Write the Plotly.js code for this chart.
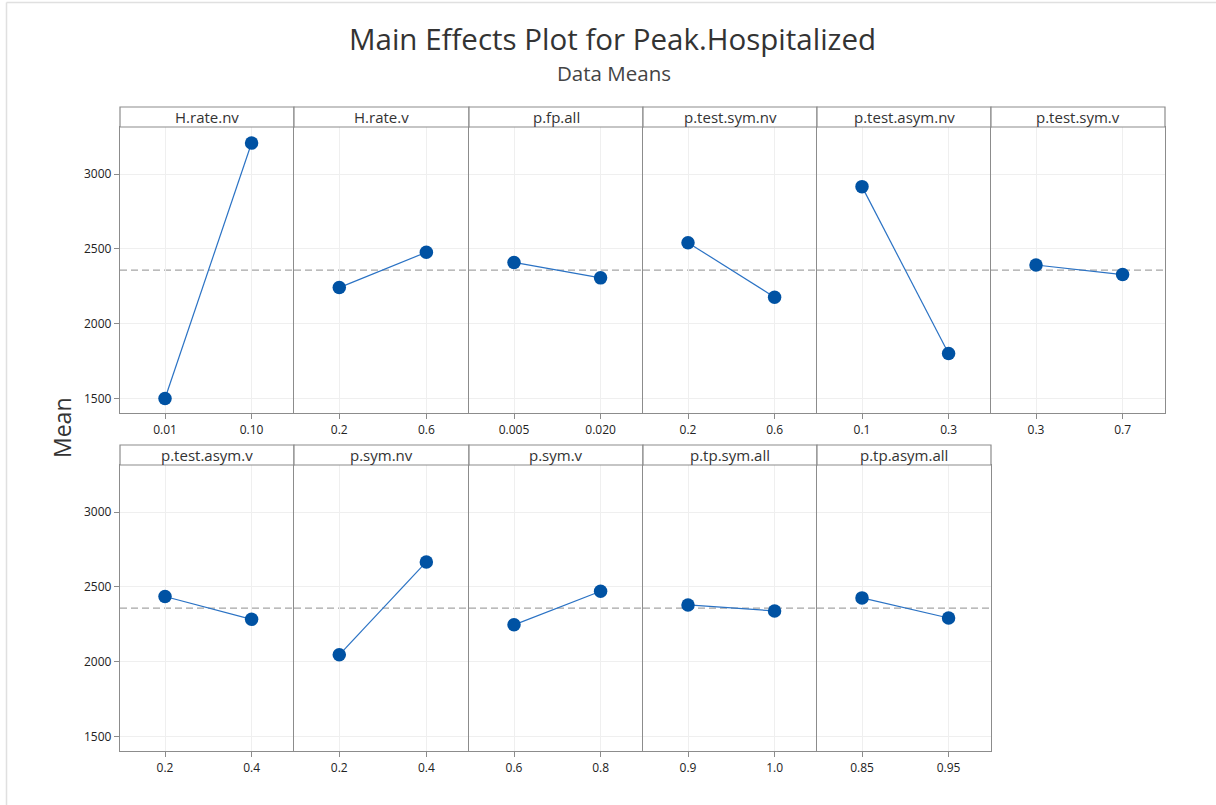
<!DOCTYPE html>
<html>
<head>
<meta charset="utf-8">
<script src="https://cdn.plot.ly/plotly-3.0.1.min.js"></script>
<style>html,body{margin:0;padding:0;background:#fff;}</style>
</head>
<body>
<div id="chart" style="width:1216px;height:805px;"></div>
<script>
// ---- data ----
const factors = ["H.rate.nv","H.rate.v","p.fp.all","p.test.sym.nv","p.test.asym.nv","p.test.sym.v",
                 "p.test.asym.v","p.sym.nv","p.sym.v","p.tp.sym.all","p.tp.asym.all"];
const levels = [["0.01","0.10"],["0.2","0.6"],["0.005","0.020"],["0.2","0.6"],["0.1","0.3"],["0.3","0.7"],
                ["0.2","0.4"],["0.2","0.4"],["0.6","0.8"],["0.9","1.0"],["0.85","0.95"]];
const means = [[1502,3207],[2242,2478],[2410,2307],[2542,2178],[2916,1802],[2393,2329],
               [2436,2284],[2047,2667],[2247,2471],[2380,2340],[2427,2293]];
const grandMean = 2358;
const yTicks = [1500,2000,2500,3000];

// ---- layout helpers ----
const W = 1216, H = 805;
const fx = p => p / W;
const fy = p => 1 - p / H;
const edges = [120, 294, 469, 643, 817, 991, 1165];
const rows = [{stripTop:107, top:127, bottom:413, n:6}, {stripTop:445, top:465, bottom:751, n:5}];
const yRange = [1405, 3314];
const LC = '#8c8c8c';

const traces = [];
const layout = {
  width: W, height: H,
  margin: {l:0, r:0, t:0, b:0},
  paper_bgcolor: '#ffffff', plot_bgcolor: '#ffffff',
  showlegend: false,
  font: {family: '"Open Sans", "Noto Sans", sans-serif', color: '#333'},
  shapes: [], annotations: []
};

factors.forEach((f, i) => {
  const r = i < 6 ? 0 : 1;
  const c = i < 6 ? i : i - 6;
  const row = rows[r];
  const isLast = c === row.n - 1;
  const x0 = edges[c], x1 = edges[c + 1];
  const n = i + 1;
  const xa = 'xaxis' + (n === 1 ? '' : n), ya = 'yaxis' + (n === 1 ? '' : n);
  const xr = 'x' + (n === 1 ? '' : n), yr = 'y' + (n === 1 ? '' : n);

  traces.push({
    type: 'scatter', mode: 'lines+markers',
    x: levels[i], y: means[i], xaxis: xr, yaxis: yr,
    line: {color: '#2a72c4', width: 1.2},
    marker: {color: '#0052a3', size: 13.5},
    hoverinfo: 'x+y'
  });

  layout[xa] = {
    domain: [fx(x0), fx(x1)], anchor: yr, type: 'category',
    range: [-0.52, 1.49],
    showline: true, mirror: true, linecolor: LC, linewidth: 1.2,
    showgrid: true, gridcolor: '#efefef', gridwidth: 1,
    ticks: 'outside', ticklen: 5, tickcolor: LC,
    tickfont: {size: 12, color: '#222'}, zeroline: false, fixedrange: true
  };
  layout[ya] = {
    domain: [fy(row.bottom), fy(row.top)], anchor: xr, range: yRange,
    tickvals: yTicks,
    showline: true, mirror: isLast ? 'all' : false, linecolor: LC, linewidth: 1.2,
    showgrid: true, gridcolor: '#efefef', gridwidth: 1,
    ticks: c === 0 ? 'outside' : '', ticklen: 5, tickcolor: LC,
    showticklabels: c === 0,
    tickfont: {size: 12, color: '#222'}, zeroline: false, fixedrange: true
  };

  // header strip
  layout.shapes.push({
    type: 'rect', xref: 'paper', yref: 'paper',
    x0: fx(x0), x1: fx(x1), y0: fy(row.top), y1: fy(row.stripTop),
    line: {color: LC, width: 1.2}, fillcolor: '#ffffff'
  });
  layout.annotations.push({
    xref: 'paper', yref: 'paper', x: fx((x0 + x1) / 2), y: fy((row.top + row.stripTop) / 2),
    text: f, showarrow: false, xanchor: 'center', yanchor: 'middle',
    font: {size: 15, color: '#333'}
  });

  // grand mean reference line
  layout.shapes.push({
    type: 'line', xref: 'paper', yref: yr,
    x0: fx(x0), x1: fx(x1), y0: grandMean, y1: grandMean,
    line: {color: '#a5a5a5', width: 1.3, dash: '7px,4px'}, layer: 'below'
  });
});

// outer light frame (top and left edges)
layout.shapes.push({type:'line', xref:'paper', yref:'paper', x0: fx(6.5), x1: 1, y0: fy(2.5), y1: fy(2.5),
  line:{color:'#e0e0e0', width:1.5}});
layout.shapes.push({type:'line', xref:'paper', yref:'paper', x0: fx(6.5), x1: fx(6.5), y0: 0, y1: fy(2.5),
  line:{color:'#e0e0e0', width:1.5}});

layout.annotations.push({
  xref:'paper', yref:'paper', x: fx(612), y: fy(39), showarrow:false,
  text:'Main Effects Plot for Peak.Hospitalized', xanchor:'center', yanchor:'middle',
  font:{size:29.5, color:'#333'}
});
layout.annotations.push({
  xref:'paper', yref:'paper', x: fx(614), y: fy(73), showarrow:false,
  text:'Data Means', xanchor:'center', yanchor:'middle',
  font:{size:20.5, color:'#444'}
});
layout.annotations.push({
  xref:'paper', yref:'paper', x: fx(62), y: fy(428), showarrow:false,
  text:'Mean', textangle:-90, xanchor:'center', yanchor:'middle',
  font:{size:23, color:'#333'}
});

Plotly.newPlot('chart', traces, layout, {displayModeBar:false, staticPlot:true});
</script>
</body>
</html>
